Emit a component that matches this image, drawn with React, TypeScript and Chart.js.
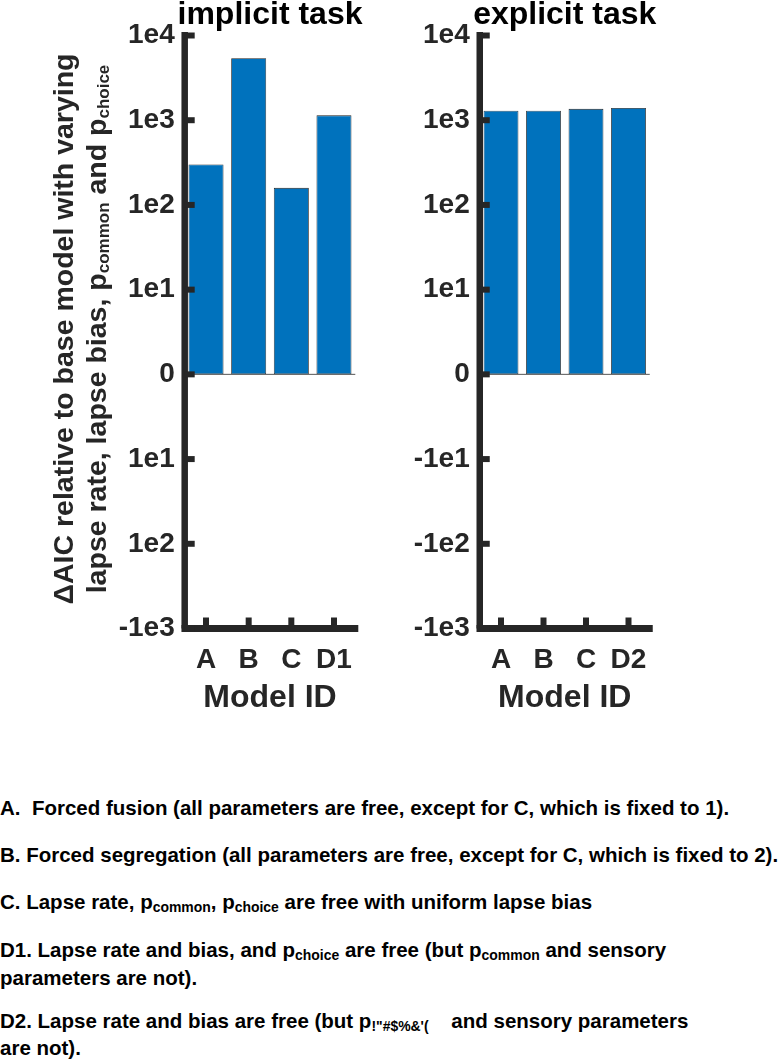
import React, { useEffect, useRef } from 'react';
import { Chart, registerables } from 'chart.js';

Chart.register(...registerables);

// ---- data ----
const implicitCategories = ['A', 'B', 'C', 'D1'];
const implicitValues = [300, 5400, 158, 1140];
const explicitCategories = ['A', 'B', 'C', 'D2'];
const explicitValues = [1290, 1290, 1360, 1390];
const tickPositions = [-3, -2, -1, 0, 1, 2, 3, 4];
const implicitTickLabels = ['-1e3', '1e2', '1e1', '0', '1e1', '1e2', '1e3', '1e4'];
const explicitTickLabels = ['-1e3', '-1e2', '-1e1', '0', '1e1', '1e2', '1e3', '1e4'];

const symlog = (v: number) => Math.sign(v) * Math.log10(1 + Math.abs(v));

const FONT = '"Liberation Sans", Arial, Helvetica, sans-serif';
const AXIS_COLOR = '#262626';
const BAR_COLOR = '#0072BD';

type PanelProps = {
  left: number;
  width: number;
  height: number;
  areaLeft: number;
  areaRight: number;
  areaTop: number;
  areaBottom: number;
  title: string;
  categories: string[];
  values: number[];
  tickLabels: string[];
  yTitle: boolean;
};

function Panel(p: PanelProps) {
  const ref = useRef<HTMLCanvasElement | null>(null);
  useEffect(() => {
    if (!ref.current) return;
    const axesPlugin = {
      id: 'matlabAxes',
      afterDraw(chart: any) {
        const ctx = chart.ctx as CanvasRenderingContext2D;
        const ca = chart.chartArea;
        const ys = chart.scales.y;
        const xs = chart.scales.x;
        ctx.save();
        // baseline
        const y0 = ys.getPixelForValue(0);
        ctx.strokeStyle = '#555';
        ctx.lineWidth = 1;
        ctx.beginPath();
        ctx.moveTo(ca.left, y0);
        ctx.lineTo(ca.right, y0);
        ctx.stroke();
        // axes lines
        ctx.strokeStyle = AXIS_COLOR;
        ctx.lineCap = 'butt';
        ctx.lineWidth = 6.5;
        ctx.beginPath();
        ctx.moveTo(ca.left, ca.top - 3.5);
        ctx.lineTo(ca.left, ca.bottom);
        ctx.stroke();
        ctx.lineWidth = 7;
        ctx.beginPath();
        ctx.moveTo(ca.left - 3.25, ca.bottom);
        ctx.lineTo(ca.right + 3, ca.bottom);
        ctx.stroke();
        // y ticks
        ctx.lineWidth = 6;
        ys.ticks.forEach((t: any) => {
          const py = ys.getPixelForValue(t.value);
          ctx.beginPath();
          ctx.moveTo(ca.left, py);
          ctx.lineTo(ca.left + 10, py);
          ctx.stroke();
        });
        // x ticks
        p.categories.forEach((_c, i) => {
          const px = xs.getPixelForValue(i);
          ctx.beginPath();
          ctx.moveTo(px, ca.bottom);
          ctx.lineTo(px, ca.bottom - 11);
          ctx.stroke();
        });
        // title
        ctx.fillStyle = '#000';
        ctx.font = `bold 32px ${FONT}`;
        ctx.textAlign = 'center';
        ctx.textBaseline = 'alphabetic';
        ctx.fillText(p.title, (ca.left + ca.right) / 2, 24);
        ctx.restore();
        // y axis title
        if (p.yTitle) {
          const cy = 329;
          const main = `bold 28.5px ${FONT}`;
          const sub = `bold 17px ${FONT}`;
          ctx.save();
          ctx.fillStyle = AXIS_COLOR;
          ctx.textAlign = 'left';
          ctx.textBaseline = 'alphabetic';
          const line1 = 'ΔAIC relative to base model with varying';
          ctx.font = main;
          const w1 = ctx.measureText(line1).width;
          ctx.translate(73, cy);
          ctx.rotate(-Math.PI / 2);
          ctx.fillText(line1, -w1 / 2, 0);
          ctx.restore();

          ctx.save();
          ctx.fillStyle = AXIS_COLOR;
          ctx.textAlign = 'left';
          ctx.textBaseline = 'alphabetic';
          const segs: [string, boolean][] = [
            ['lapse rate, lapse bias, p', false],
            ['common', true],
            [' and p', false],
            ['choice', true],
          ];
          let total = 0;
          segs.forEach(([s, isSub]) => {
            ctx.font = isSub ? sub : main;
            total += ctx.measureText(s).width;
          });
          ctx.translate(106, cy);
          ctx.rotate(-Math.PI / 2);
          let x = -total / 2;
          segs.forEach(([s, isSub]) => {
            ctx.font = isSub ? sub : main;
            ctx.fillText(s, x, isSub ? 3 : 0);
            x += ctx.measureText(s).width;
          });
          ctx.restore();
        }
      },
    };

    const chart = new Chart(ref.current, {
      type: 'bar',
      data: {
        labels: p.categories,
        datasets: [
          {
            data: p.values.map(symlog),
            backgroundColor: BAR_COLOR,
            borderColor: '#1f1f1f',
            borderWidth: 0.8,
            borderSkipped: false,
            barPercentage: 0.82,
            categoryPercentage: 1.0,
          },
        ],
      },
      options: {
        responsive: false,
        maintainAspectRatio: false,
        animation: false,
        devicePixelRatio: 1,
        layout: {
          padding: { left: 0, right: p.width - p.areaRight, top: p.areaTop, bottom: 0 },
        },
        plugins: {
          legend: { display: false },
          title: { display: false },
          tooltip: { enabled: false },
        },
        scales: {
          x: {
            type: 'category',
            offset: true,
            grid: { display: false, drawTicks: false },
            border: { display: false },
            ticks: {
              autoSkip: false,
              maxRotation: 0,
              padding: 15,
              color: AXIS_COLOR,
              font: { family: FONT, size: 28, weight: 'bold' },
            },
            title: {
              display: true,
              text: 'Model ID',
              color: AXIS_COLOR,
              font: { family: FONT, size: 32, weight: 'bold' },
              padding: { top: 0, bottom: 22.8 },
            },
            afterFit: (s: any) => {
              s.height = p.height - p.areaBottom;
            },
          },
          y: {
            type: 'linear',
            min: -3,
            max: 4,
            grid: { display: false, drawTicks: false },
            border: { display: false },
            afterBuildTicks: (s: any) => {
              s.ticks = tickPositions.map((v) => ({ value: v }));
            },
            ticks: {
              autoSkip: false,
              padding: 10,
              color: AXIS_COLOR,
              font: { family: FONT, size: 28, weight: 'bold' },
              callback: (v: any) => {
                const i = tickPositions.indexOf(Number(v));
                return i >= 0 ? p.tickLabels[i] : '';
              },
            },
            afterFit: (s: any) => {
              s.width = p.areaLeft;
            },
          },
        },
      } as any,
      plugins: [axesPlugin],
    });
    return () => chart.destroy();
  }, []);
  return (
    <canvas
      ref={ref}
      width={p.width}
      height={p.height}
      style={{ position: 'absolute', left: p.left, top: 0, width: p.width, height: p.height }}
    />
  );
}

const noteStyle: React.CSSProperties = {
  position: 'absolute',
  left: 0,
  fontFamily: FONT,
  fontWeight: 'bold',
  fontSize: 20.5,
  lineHeight: '20.5px',
  color: '#000',
  whiteSpace: 'pre',
};
const subStyle: React.CSSProperties = { fontSize: '0.68em', verticalAlign: '-0.18em' };

function Note({ y, children }: { y: number; children: React.ReactNode }) {
  return <div style={{ ...noteStyle, top: y - 10 }}>{children}</div>;
}

export default function App() {
  return (
    <div style={{ position: 'absolute', left: 0, top: 0, width: 783, height: 1061, background: '#fff', overflow: 'hidden' }}>
      <Panel
        left={0}
        width={380}
        height={740}
        areaLeft={184.7}
        areaRight={355.3}
        areaTop={35.5}
        areaBottom={628.5}
        title="implicit task"
        categories={implicitCategories}
        values={implicitValues}
        tickLabels={implicitTickLabels}
        yTitle={true}
      />
      <Panel
        left={380}
        width={403}
        height={740}
        areaLeft={99.75}
        areaRight={269.75}
        areaTop={35.5}
        areaBottom={628.5}
        title="explicit task"
        categories={explicitCategories}
        values={explicitValues}
        tickLabels={explicitTickLabels}
        yTitle={false}
      />
      <Note y={808}>A.  Forced fusion (all parameters are free, except for C, which is fixed to 1).</Note>
      <Note y={855}>B. Forced segregation (all parameters are free, except for C, which is fixed to 2).</Note>
      <Note y={902}>
        C. Lapse rate, p<span style={subStyle}>common</span>, p<span style={subStyle}>choice</span> are free with uniform lapse bias
      </Note>
      <Note y={950}>
        D1. Lapse rate and bias, and p<span style={subStyle}>choice</span> are free (but p<span style={subStyle}>common</span> and sensory
      </Note>
      <Note y={978}>parameters are not).</Note>
      <Note y={1021}>
        D2. Lapse rate and bias are free (but p<span style={subStyle}>{'!"#$%&\'('}</span>    and sensory parameters
      </Note>
      <Note y={1048}>are not).</Note>
    </div>
  );
}
